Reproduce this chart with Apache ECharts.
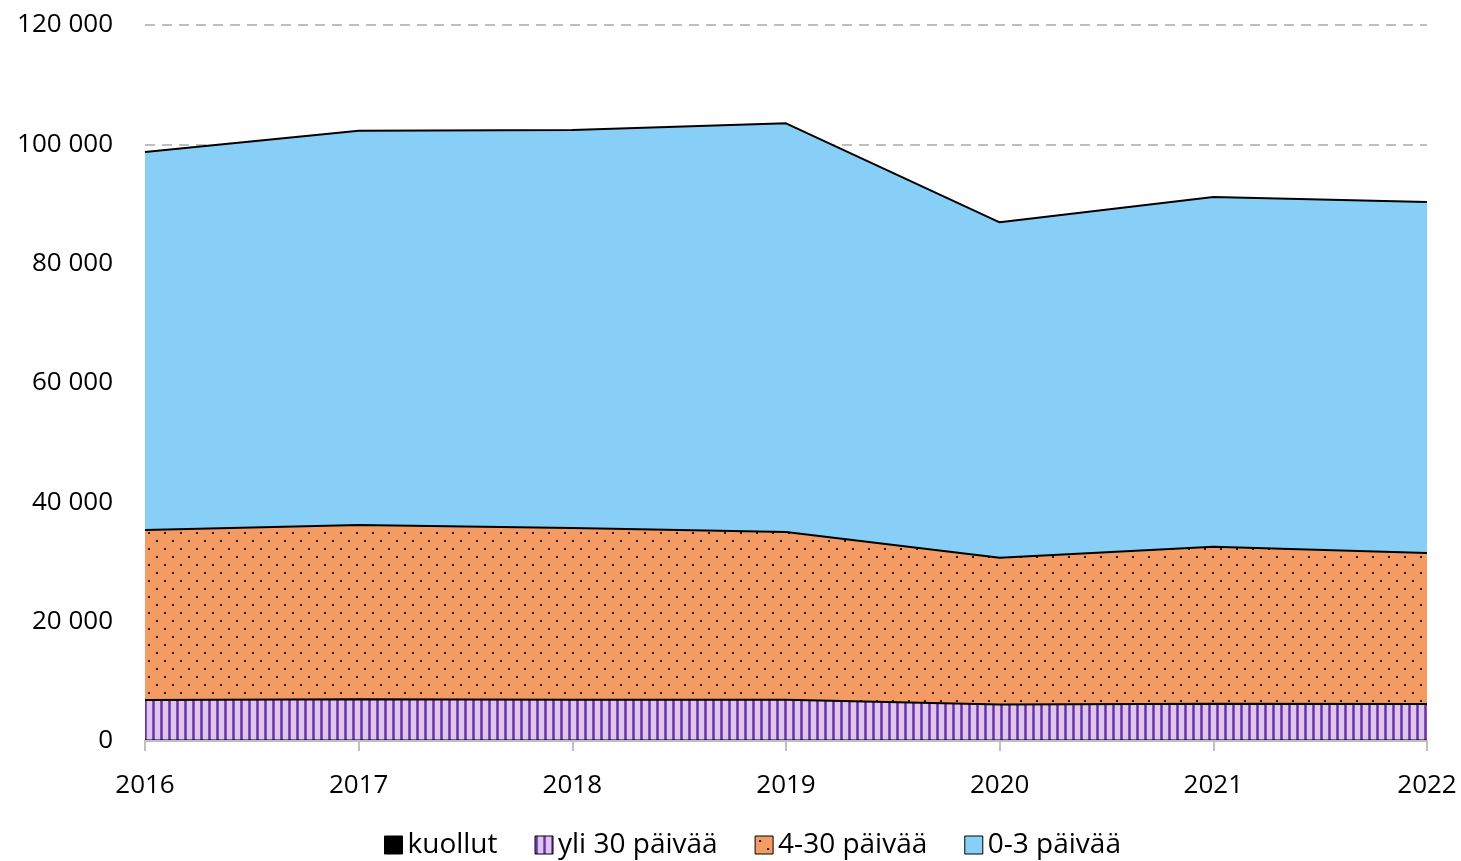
<!DOCTYPE html>
<html>
<head>
<meta charset="utf-8">
<script src="https://cdn.jsdelivr.net/npm/echarts@6/dist/echarts.min.js"></script>
<style>
  html, body { margin: 0; padding: 0; background: #fff; }
  #chart { width: 1461px; height: 861px; }
</style>
</head>
<body>
<div id="chart"></div>
<script>
const years = ['2016', '2017', '2018', '2019', '2020', '2021', '2022'];
const seriesNames = ['kuollut', 'yli 30 päivää', '4-30 päivää', '0-3 päivää'];
const kuollut = [100, 100, 100, 100, 100, 100, 100];
const yli30 = [6770, 6900, 6800, 6800, 6000, 6150, 6100];
const paiva4to30 = [28490, 29200, 28800, 28130, 24620, 26310, 25310];
const paiva0to3 = [63360, 66090, 66700, 68490, 56210, 58610, 58830];
const yTicks = [0, 20000, 40000, 60000, 80000, 100000, 120000];

const FONT = '"Open Sans", "Noto Sans", sans-serif';

// kuviot (stripes / dots) canvasilla
function stripePattern() {
  const c = document.createElement('canvas');
  c.width = 8; c.height = 8;
  const ctx = c.getContext('2d');
  ctx.fillStyle = '#dcc6ef';
  ctx.fillRect(0, 0, 8, 8);
  ctx.fillStyle = '#a77fcf';
  ctx.fillRect(0, 0, 3, 8);
  ctx.fillStyle = '#7030a0';
  ctx.fillRect(0.5, 0, 2, 8);
  return { image: c, repeat: 'repeat' };
}

function dotPattern() {
  const c = document.createElement('canvas');
  c.width = 16; c.height = 16;
  const ctx = c.getContext('2d');
  ctx.fillStyle = '#f39b63';
  ctx.fillRect(0, 0, 16, 16);
  ctx.fillStyle = '#1a1a1a';
  ctx.fillRect(4, 4, 2, 2);
  ctx.fillRect(12, 12, 2, 2);
  return { image: c, repeat: 'repeat' };
}

const fills = ['#000000', stripePattern(), dotPattern(), '#87cff6'];
const values = [kuollut, yli30, paiva4to30, paiva0to3];

const fmt = v => String(v).replace(/\B(?=(\d{3})+(?!\d))/g, ' ');

const chart = echarts.init(document.getElementById('chart'), null, { renderer: 'canvas' });

chart.setOption({
  animation: false,
  grid: { left: 145, right: 34, top: 25, bottom: 120 },
  legend: {
    bottom: -3,
    left: 379,
    icon: 'rect',
    itemWidth: 18,
    itemHeight: 18,
    itemGap: 37,
    textStyle: { fontFamily: FONT, fontSize: 28, color: '#000' },
    data: seriesNames.map((n, i) => ({
      name: n,
      itemStyle: { color: fills[i], borderColor: '#000', borderWidth: 1 }
    }))
  },
  xAxis: {
    type: 'category',
    data: years,
    boundaryGap: false,
    z: 5,
    axisLine: { lineStyle: { color: '#bfbfbf', width: 2 } },
    axisTick: { show: true, length: 10, lineStyle: { color: '#bfbfbf', width: 2 } },
    axisLabel: { fontFamily: FONT, fontSize: 26, color: '#000', margin: 32 }
  },
  yAxis: {
    type: 'value',
    min: 0,
    max: 120000,
    interval: 20000,
    axisLine: { show: false },
    axisTick: { show: false },
    splitLine: { lineStyle: { color: '#bfbfbf', width: 2, type: [10, 7] } },
    axisLabel: {
      fontFamily: FONT, fontSize: 26, color: '#000', margin: 32,
      formatter: v => yTicks.includes(v) ? fmt(v) : ''
    }
  },
  series: seriesNames.map((n, i) => ({
    name: n,
    type: 'line',
    stack: 'total',
    data: values[i],
    symbol: 'none',
    lineStyle: { color: '#000', width: 2 },
    itemStyle: { color: '#000' },
    areaStyle: { color: fills[i], opacity: 1 },
    z: 2
  }))
});
</script>
</body>
</html>
